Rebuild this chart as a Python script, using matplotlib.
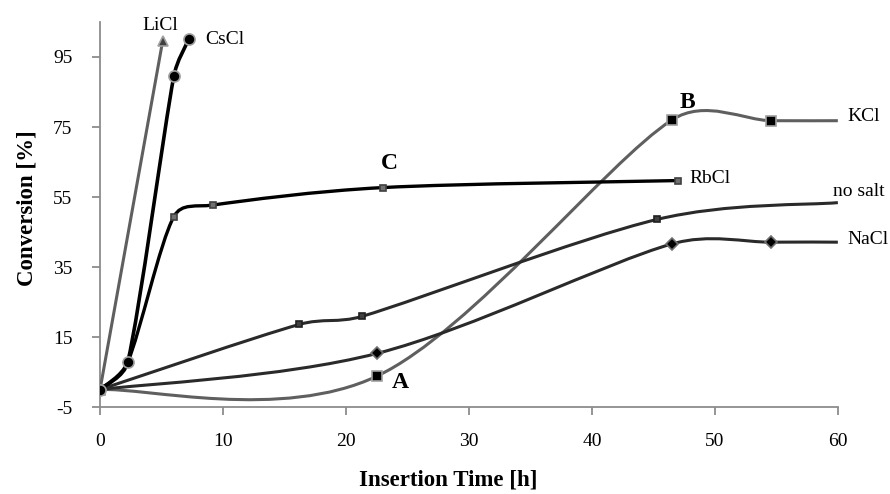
import numpy as np
import matplotlib.pyplot as plt
from matplotlib.path import Path
from matplotlib.patches import PathPatch

plt.rcParams['font.family'] = ['Liberation Serif', 'DejaVu Serif']
plt.rcParams['axes.unicode_minus'] = False

# data (time [h], conversion [%])
licl_t = [0, 5.1]
licl_c = [0, 99.7]

cscl_t = [0, 2.25, 6.0, 7.2]
cscl_c = [0, 7.8, 89.5, 100]

rbcl_t = [0, 2.25, 6.0, 9.15, 23.0, 47.0]
rbcl_c = [0, 7.8, 49.4, 52.7, 57.7, 59.7]

kcl_t = [0, 22.5, 46.5, 54.6, 60]
kcl_c = [0, 3.8, 77, 76.8, 76.8]

nosalt_t = [0, 16.2, 21.3, 45.3, 60]
nosalt_c = [0, 18.6, 20.9, 48.6, 53.4]

nacl_t = [0, 22.5, 46.5, 54.6, 60]
nacl_c = [0, 10.3, 41.6, 42.1, 42.1]

fig = plt.figure(figsize=(8.9, 4.94), dpi=100)
ax = fig.add_axes([0.1124, 0.176, 0.829, 0.7795])
ax.set_xlim(0, 60)
ax.set_ylim(-5, 105)


def smooth_path(xs, ys):
    # excel-style smoothed line, control points worked out in screen space
    p = ax.transData.transform(np.column_stack([xs, ys]))
    n = len(p)
    verts = [p[0]]
    codes = [Path.MOVETO]
    for i in range(n - 1):
        p0 = p[i - 1] if i > 0 else p[i]
        p1, p2 = p[i], p[i + 1]
        p3 = p[i + 2] if i + 2 < n else p[i + 1]
        d12 = np.hypot(*(p2 - p1))
        d02 = np.hypot(*(p2 - p0))
        d13 = np.hypot(*(p3 - p1))
        cap = 0.4 * d12
        f0 = 1 / 6 if d02 / 6 < cap else cap / d02
        f3 = 1 / 6 if d13 / 6 < cap else cap / d13
        verts += [p1 + (p2 - p0) * f0, p2 - (p3 - p1) * f3, p2]
        codes += [Path.CURVE4] * 3
    verts = ax.transData.inverted().transform(np.array(verts))
    return Path(verts, codes)


def draw(xs, ys, color, lw, marker, ms, mfc, mec, nmark=None, z=2):
    ax.add_patch(PathPatch(smooth_path(xs, ys), fill=False, edgecolor=color,
                           lw=lw, zorder=z, capstyle='butt'))
    if nmark is None:
        nmark = len(xs)
    ax.plot(xs[:nmark], ys[:nmark], linestyle='none', marker=marker, ms=ms,
            mfc=mfc, mec=mec, mew=1.2, zorder=z + 0.5)


draw(kcl_t, kcl_c, '#5f5f5f', 2.2, 's', 6.5, 'black', '#a0a0a0', nmark=4)
draw(nacl_t, nacl_c, '#2a2a2a', 2.2, 'D', 6.5, 'black', '#707070', nmark=4)
draw(nosalt_t, nosalt_c, '#2a2a2a', 2.2, 's', 5, '#404040', '#202020', nmark=4)
draw(rbcl_t, rbcl_c, 'black', 2.4, 's', 5, '#707070', '#404040', z=3)
draw(licl_t, licl_c, '#5f5f5f', 2.2, '^', 7.5, '#404040', '#a0a0a0', z=4)
draw(cscl_t, cscl_c, 'black', 2.6, 'o', 8, 'black', '#a0a0a0', z=5)

ax.set_xlim(0, 60)
ax.set_ylim(-5, 105)
ax.set_xticks(np.arange(0, 61, 10))
ax.set_yticks(np.arange(-5, 96, 20))
for s in ['top', 'right']:
    ax.spines[s].set_visible(False)
for s in ['left', 'bottom']:
    ax.spines[s].set_color('#8c8c8c')
    ax.spines[s].set_linewidth(1.3)
ax.tick_params(colors='#8c8c8c', length=6, width=1.3, labelsize=14,
               labelcolor='black')
ax.tick_params(axis='y', pad=14)
ax.tick_params(axis='x', pad=13)

ax.set_xlabel('Insertion Time [h]', fontsize=16.5, fontweight='bold')
ax.set_ylabel('Conversion [%]', fontsize=16.5, fontweight='bold')
ax.xaxis.set_label_coords(0.4715, -0.163)
ax.yaxis.set_label_coords(-0.0854, 0.517)

# series labels
lab = dict(fontsize=14, clip_on=False)
ax.text(4.9, 104.1, 'LiCl', ha='center', va='center', **lab)
ax.text(8.56, 99.9, 'CsCl', ha='left', va='center', **lab)
ax.text(60.8, 77.9, 'KCl', ha='left', va='center', **lab)
ax.text(47.9, 60.4, 'RbCl', ha='left', va='center', **lab)
ax.text(61.7, 56.7, 'no salt', ha='center', va='center', **lab)
ax.text(60.8, 43.0, 'NaCl', ha='left', va='center', **lab)

bold = dict(fontsize=17, fontweight='bold', clip_on=False)
ax.text(24.4, 2.1, 'A', ha='center', va='center', **bold)
ax.text(47.75, 82.1, 'B', ha='center', va='center', **bold)
ax.text(23.5, 64.7, 'C', ha='center', va='center', **bold)

fig.savefig('out.png', dpi=100)
